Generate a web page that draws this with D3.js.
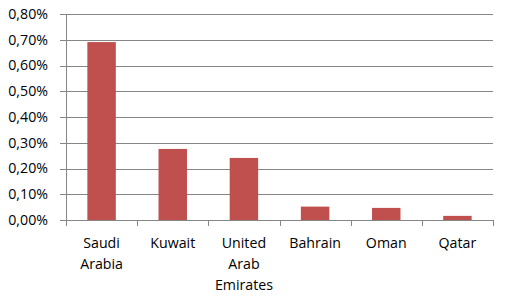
<!DOCTYPE html>
<html>
  <head>
    <meta charset="utf-8">
    <title>Share by country</title>
    <script src="https://d3js.org/d3.v7.min.js"></script>
    <style>
      body { margin: 0; background: #fff; }
      text { font-family: "Open Sans", "Noto Sans", sans-serif; font-size: 14.2px; fill: #000; }
    </style>
  </head>
  <body>
    <svg id="chart" width="509" height="303"></svg>
    <script>
      // data
      countries = ["Saudi Arabia", "Kuwait", "United Arab Emirates", "Bahrain", "Oman", "Qatar"];
      shares = [0.691, 0.276, 0.241, 0.052, 0.047, 0.016];
      yTicks = [0, 0.1, 0.2, 0.3, 0.4, 0.5, 0.6, 0.7, 0.8];

      svg = d3.select("#chart");
      margin = { top: 14, right: 16, bottom: 83, left: 66 };
      width = 509;
      height = 303;

      x = d3.scaleBand()
        .domain(countries)
        .range([margin.left, width - margin.right])
        .paddingInner(0.6)
        .paddingOuter(0.3);
      y = d3.scaleLinear()
        .domain([0, 0.8])
        .range([height - margin.bottom, margin.top]);

      fmt = function(d) { return d.toFixed(2).replace(".", ",") + "%"; };

      // gridlines
      svg.append("g")
        .selectAll("line")
        .data(yTicks)
        .join("line")
          .attr("x1", margin.left - 6)
          .attr("x2", width - margin.right)
          .attr("y1", function(d) { return Math.round(y(d)) + 0.5; })
          .attr("y2", function(d) { return Math.round(y(d)) + 0.5; })
          .style("stroke", "#868686")
          .style("stroke-width", 1);

      // y labels
      svg.append("g")
        .selectAll("text")
        .data(yTicks)
        .join("text")
          .attr("x", 48)
          .attr("y", function(d) { return y(d); })
          .attr("dy", "0.35em")
          .attr("text-anchor", "end")
          .text(fmt);

      // y axis line
      svg.append("line")
        .attr("x1", margin.left + 0.5)
        .attr("x2", margin.left + 0.5)
        .attr("y1", margin.top)
        .attr("y2", y(0))
        .style("stroke", "#868686");

      // bars
      svg.append("g")
        .selectAll("rect")
        .data(countries)
        .join("rect")
          .attr("x", function(d) { return x(d); })
          .attr("width", x.bandwidth())
          .attr("y", function(d, i) { return y(shares[i]); })
          .attr("height", function(d, i) { return y(0) - y(shares[i]); })
          .style("fill", "#C0504D");

      // x tick marks at category boundaries
      step = x.step();
      start = x(countries[0]) - x.paddingOuter() * step;
      bounds = d3.range(countries.length + 1).map(function(i) { return start + i * step; });
      svg.append("g")
        .selectAll("line")
        .data(bounds)
        .join("line")
          .attr("x1", function(d) { return Math.round(d) + 0.5; })
          .attr("x2", function(d) { return Math.round(d) + 0.5; })
          .attr("y1", y(0))
          .attr("y2", y(0) + 6)
          .style("stroke", "#868686");

      // x axis line
      svg.append("line")
        .attr("x1", margin.left)
        .attr("x2", width - margin.right)
        .attr("y1", Math.round(y(0)) + 0.5)
        .attr("y2", Math.round(y(0)) + 0.5)
        .style("stroke", "#868686");

      // category labels, one word per line
      labels = svg.append("g")
        .selectAll("text")
        .data(countries)
        .join("text")
          .attr("text-anchor", "middle")
          .attr("x", function(d) { return x(d) + x.bandwidth() / 2; })
          .attr("y", 248);
      labels.selectAll("tspan")
        .data(function(d) { return d.split(" "); })
        .join("tspan")
          .attr("x", function() { return d3.select(this.parentNode).attr("x"); })
          .attr("dy", function(d, i) { return i === 0 ? 0 : 21; })
          .text(function(d) { return d; });
    </script>
  </body>
</html>
